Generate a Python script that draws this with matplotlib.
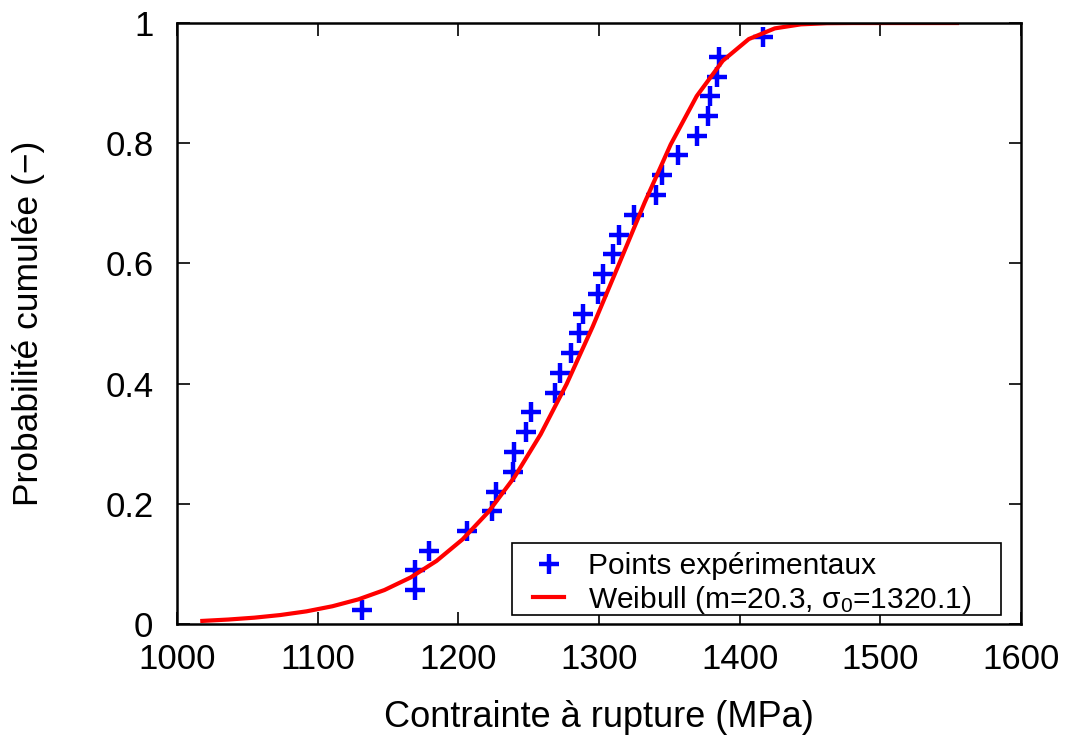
import matplotlib
matplotlib.use('Agg')
import matplotlib.pyplot as plt
from matplotlib.patches import Rectangle

plt.rcParams['font.family'] = ['Liberation Sans', 'DejaVu Sans']
plt.rcParams['mathtext.fontset'] = 'custom'
plt.rcParams['mathtext.rm'] = 'Liberation Sans'
plt.rcParams['mathtext.it'] = 'Liberation Sans'

# experimental points (stress MPa, cumulative probability)
sigma_exp = [1131.3, 1169.2, 1169.2, 1179.4, 1206.5, 1223.6, 1227.1, 1239.0, 1239.6, 1247.9,
             1251.6, 1268.7, 1272.3, 1279.8, 1285.8, 1288.6, 1299.3, 1302.6, 1310.2, 1314.5,
             1324.7, 1340.3, 1345.0, 1355.9, 1369.4, 1377.6, 1378.9, 1384.1, 1385.5, 1416.3]
prob_exp = [0.023, 0.056, 0.089, 0.122, 0.155, 0.188, 0.220, 0.253, 0.286, 0.319,
            0.352, 0.385, 0.418, 0.451, 0.484, 0.516, 0.549, 0.582, 0.615, 0.648,
            0.681, 0.714, 0.747, 0.780, 0.812, 0.845, 0.878, 0.911, 0.944, 0.977]

# Weibull fit curve
sigma_fit = [1018, 1036.5, 1055, 1073.5, 1092, 1110.5, 1129, 1147.5, 1166, 1184.5,
             1203, 1221.5, 1240, 1258.5, 1277, 1295.5, 1314, 1332.5, 1351, 1369.5,
             1388, 1406.5, 1425, 1443.5, 1462, 1480.5, 1499, 1517.5, 1536, 1554.5]
prob_fit = [0.0051, 0.0074, 0.0105, 0.0149, 0.0210, 0.0295, 0.0410, 0.0565, 0.0773, 0.1049,
            0.1408, 0.1868, 0.2447, 0.3155, 0.3993, 0.4947, 0.5976, 0.7015, 0.7980, 0.8785,
            0.9372, 0.9733, 0.9911, 0.9978, 0.9997, 1.0, 1.0, 1.0, 1.0, 1.0]

fig, ax = plt.subplots(figsize=(10.72, 7.38), dpi=100)
fig.subplots_adjust(left=0.1651, right=0.9524, top=0.9688, bottom=0.1545)

ax.plot(sigma_exp, prob_exp, linestyle='none', marker='+', color='#0000ff',
        markersize=15, markeredgewidth=3.2, label='Points expérimentaux')
ax.plot(sigma_fit, prob_fit, color='#ff0000', lw=3,
        label=r'Weibull (m=20.3, σ$_0$=1320.1)')

ax.set_xlim(1000, 1600)
ax.set_ylim(0, 1)
ax.set_xticks([1000, 1100, 1200, 1300, 1400, 1500, 1600])
ax.set_yticks([0, 0.2, 0.4, 0.6, 0.8, 1])
ax.set_yticklabels(['0', '0.2', '0.4', '0.6', '0.8', '1'])
ax.tick_params(direction='in', length=9, width=1.2, top=True, right=True,
               labelsize=25)
ax.tick_params(axis='x', pad=14)
ax.tick_params(axis='y', pad=17)
for s in ax.spines.values():
    s.set_linewidth(1.8)

ax.set_xlabel('Contrainte à rupture (MPa)', fontsize=26, labelpad=17)
ax.set_ylabel('Probabilité cumulée (−)', fontsize=25.5, labelpad=43)

# gnuplot-style key: plain box with extra room on the right
ax.add_patch(Rectangle((0.397, 0.015), 0.579, 0.12, transform=ax.transAxes,
                       facecolor='white', edgecolor='black', lw=1.2, zorder=4))
ax.legend(loc='lower left', fontsize=21.5, frameon=False, handlelength=1.05,
          handletextpad=0.8, borderpad=0.7, labelspacing=0.12, borderaxespad=0,
          bbox_to_anchor=(0.397, -0.021))

fig.savefig('out.png', dpi=100)
